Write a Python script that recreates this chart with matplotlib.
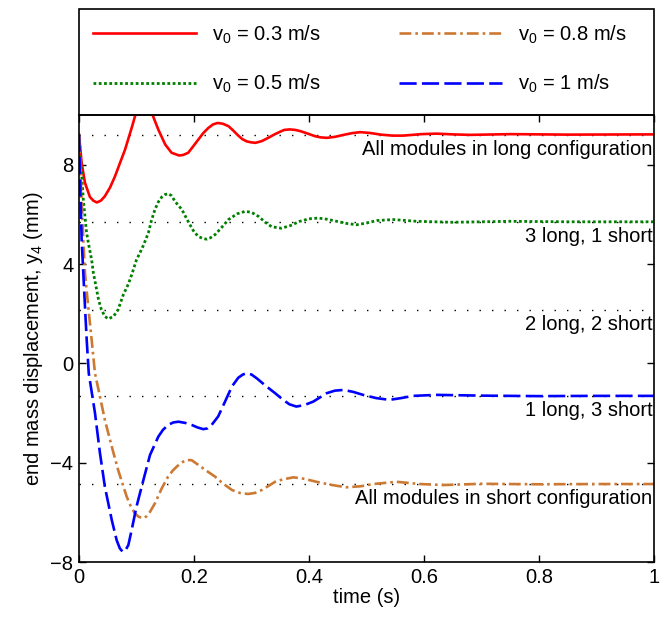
import matplotlib
matplotlib.use('Agg')
import matplotlib.pyplot as plt
from matplotlib.patches import Rectangle

plt.rcParams['font.family'] = ['Liberation Sans', 'DejaVu Sans']
plt.rcParams['mathtext.default'] = 'regular'

# end mass displacement y4 (mm) vs time (s)
t_03 = [0.0, 0.0046, 0.0104, 0.019, 0.025, 0.031, 0.038, 0.045, 0.054, 0.0626, 0.071,
        0.08, 0.0916, 0.098, 0.105, 0.113, 0.121, 0.128, 0.138, 0.15, 0.161, 0.174,
        0.181, 0.19, 0.198, 0.2075, 0.216, 0.225, 0.233, 0.241, 0.25, 0.26, 0.268,
        0.277, 0.284, 0.2916, 0.299, 0.307, 0.318, 0.329, 0.34, 0.35, 0.357, 0.367,
        0.376, 0.385, 0.398, 0.41, 0.42, 0.431, 0.445, 0.46, 0.475, 0.489, 0.505,
        0.525, 0.545, 0.563, 0.58, 0.595, 0.622, 0.65, 0.68, 0.75, 0.85, 1.0]
y_03 = [9.21, 8.07, 7.27, 6.7, 6.55, 6.48, 6.55, 6.73, 7.08, 7.53, 8.05,
        8.6, 9.48, 10.0, 10.35, 10.45, 10.35, 10.0, 9.41, 8.81, 8.48, 8.37,
        8.39, 8.48, 8.72, 9.01, 9.27, 9.48, 9.62, 9.68, 9.65, 9.55, 9.38,
        9.17, 9.03, 8.94, 8.9, 8.88, 8.95, 9.08, 9.22, 9.33, 9.4, 9.42,
        9.4, 9.35, 9.25, 9.15, 9.1, 9.08, 9.12, 9.2, 9.27, 9.31, 9.28,
        9.21, 9.17, 9.17, 9.2, 9.23, 9.25, 9.22, 9.2, 9.23, 9.21, 9.22]

t_05 = [0.0, 0.0075, 0.013, 0.0163, 0.022, 0.025, 0.0296, 0.034, 0.039, 0.045, 0.051,
        0.06, 0.068, 0.077, 0.086, 0.0927, 0.1, 0.106, 0.112, 0.1206, 0.126, 0.132,
        0.138, 0.144, 0.15, 0.155, 0.161, 0.167, 0.179, 0.186, 0.193, 0.2, 0.2075,
        0.215, 0.222, 0.229, 0.2365, 0.248, 0.26, 0.275, 0.289, 0.3, 0.312, 0.324,
        0.335, 0.352, 0.368, 0.384, 0.4, 0.416, 0.432, 0.448, 0.466, 0.483, 0.5,
        0.518, 0.547, 0.587, 0.65, 0.75, 0.85, 1.0]
y_05 = [9.21, 6.6, 5.3, 4.85, 4.17, 3.64, 3.1, 2.56, 2.16, 1.89, 1.79,
        1.89, 2.16, 2.76, 3.2, 3.64, 4.17, 4.45, 4.75, 5.25, 5.75, 6.19,
        6.5, 6.7, 6.8, 6.83, 6.75, 6.52, 6.19, 5.88, 5.58, 5.3, 5.11,
        5.03, 5.0, 5.06, 5.18, 5.47, 5.79, 6.02, 6.12, 6.08, 5.92, 5.68,
        5.5, 5.44, 5.55, 5.72, 5.82, 5.85, 5.8, 5.72, 5.63, 5.58, 5.65,
        5.75, 5.79, 5.72, 5.68, 5.72, 5.7, 5.7]

t_08 = [0.0, 0.0075, 0.0104, 0.016, 0.022, 0.0278, 0.0365, 0.045, 0.057, 0.068, 0.083,
        0.09, 0.097, 0.104, 0.112, 0.118, 0.1235, 0.132, 0.144, 0.155, 0.163, 0.17,
        0.178, 0.187, 0.196, 0.2075, 0.222, 0.2365, 0.251, 0.266, 0.28, 0.294, 0.306,
        0.318, 0.33, 0.341, 0.355, 0.373, 0.392, 0.413, 0.44, 0.465, 0.49, 0.512,
        0.552, 0.593, 0.634, 0.7, 0.8, 0.9, 1.0]
y_08 = [9.21, 4.98, 3.64, 2.29, 0.95, -0.4, -1.34, -2.28, -3.35, -4.29, -5.37,
        -5.75, -6.04, -6.18, -6.24, -6.15, -5.98, -5.64, -5.03, -4.56, -4.32, -4.16,
        -4.0, -3.89, -3.9, -4.09, -4.33, -4.56, -4.85, -5.1, -5.22, -5.26, -5.22,
        -5.1, -4.93, -4.77, -4.67, -4.59, -4.65, -4.77, -4.9, -4.99, -4.95, -4.86,
        -4.77, -4.86, -4.9, -4.85, -4.87, -4.86, -4.86]

t_10 = [0.0, 0.0046, 0.0075, 0.0104, 0.0134, 0.017, 0.0278, 0.0365, 0.045, 0.057, 0.0655,
        0.071, 0.076, 0.081, 0.0858, 0.0916, 0.1, 0.112, 0.1235, 0.138, 0.146, 0.155,
        0.164, 0.173, 0.185, 0.196, 0.206, 0.216, 0.2235, 0.2307, 0.242, 0.254, 0.266,
        0.277, 0.285, 0.2916, 0.3, 0.309, 0.326, 0.341, 0.355, 0.366, 0.378, 0.392,
        0.4075, 0.431, 0.445, 0.46, 0.477, 0.494, 0.517, 0.54, 0.56, 0.581, 0.622,
        0.7, 0.8, 0.9, 1.0]
y_10 = [9.21, 4.98, 3.64, 2.29, 0.95, -0.4, -2.0, -3.62, -4.97, -6.31, -7.12,
        -7.45, -7.59, -7.52, -7.32, -6.71, -5.77, -4.7, -3.69, -2.95, -2.68, -2.48,
        -2.38, -2.35, -2.4, -2.48, -2.58, -2.65, -2.62, -2.48, -2.14, -1.54, -0.93,
        -0.58, -0.45, -0.4, -0.45, -0.6, -0.93, -1.2, -1.47, -1.65, -1.74, -1.68,
        -1.54, -1.2, -1.1, -1.07, -1.15, -1.27, -1.4, -1.47, -1.4, -1.31, -1.27,
        -1.3, -1.32, -1.31, -1.31]

# steady-state levels of each configuration
ref_levels = [9.21, 5.70, 2.16, -1.31, -4.86]
ref_labels = ['All modules in long configuration', '3 long, 1 short', '2 long, 2 short',
              '1 long, 3 short', 'All modules in short configuration']

fig = plt.figure(figsize=(6.66, 6.18), dpi=100)
ax = fig.add_axes([0.1186, 0.0906, 0.8634, 0.7233])

for lvl, lab in zip(ref_levels, ref_labels):
    ax.plot([0, 1], [lvl, lvl], color='black', linewidth=1.0,
            linestyle=(0, (1, 8)))
    ax.text(0.997, lvl - 0.22, lab, ha='right', va='top', fontsize=14.5)

l1, = ax.plot(t_03, y_03, color='#ff0000', linewidth=1.9, label='$v_0$ = 0.3 m/s')
l2, = ax.plot(t_05, y_05, color='#008000', linewidth=2.0, linestyle=(0, (1, 0.9)),
              label='$v_0$ = 0.5 m/s')
l3, = ax.plot(t_08, y_08, color='#cc7a33', linewidth=1.9, linestyle=(0, (4.5, 1.5, 1, 1.5)),
              label='$v_0$ = 0.8 m/s')
l4, = ax.plot(t_10, y_10, color='#0000ff', linewidth=1.9, linestyle=(0, (6.5, 2)),
              label='$v_0$ = 1 m/s')

ax.set_xlim(0, 1)
ax.set_ylim(-8, 10)
ax.set_xticks([0, 0.2, 0.4, 0.6, 0.8, 1])
ax.set_xticklabels(['0', '0.2', '0.4', '0.6', '0.8', '1'])
ax.set_yticks([-8, -4, 0, 4, 8])
ax.tick_params(direction='in', top=True, right=True, length=5, width=1,
               labelsize=14.5, pad=4)
for s in ax.spines.values():
    s.set_linewidth(1.2)
ax.set_xlabel('time (s)', fontsize=14.5, labelpad=1)
ax.set_ylabel('end mass displacement, $y_4$ (mm)', fontsize=14.5, labelpad=4)

# legend box sitting on top of the axes
ax.add_patch(Rectangle((0, 1), 1, 0.237, transform=ax.transAxes, fill=False,
                       linewidth=1.2, edgecolor='black', clip_on=False))
ax.legend(handles=[l1, l2, l3, l4], ncol=2, loc='upper left',
          bbox_to_anchor=(0.0243, 1.205), frameon=False, fontsize=14.5,
          borderpad=0, borderaxespad=0, handlelength=5.1, handletextpad=0.8,
          columnspacing=3.9, labelspacing=1.35)

fig.savefig('out.png', dpi=100)
